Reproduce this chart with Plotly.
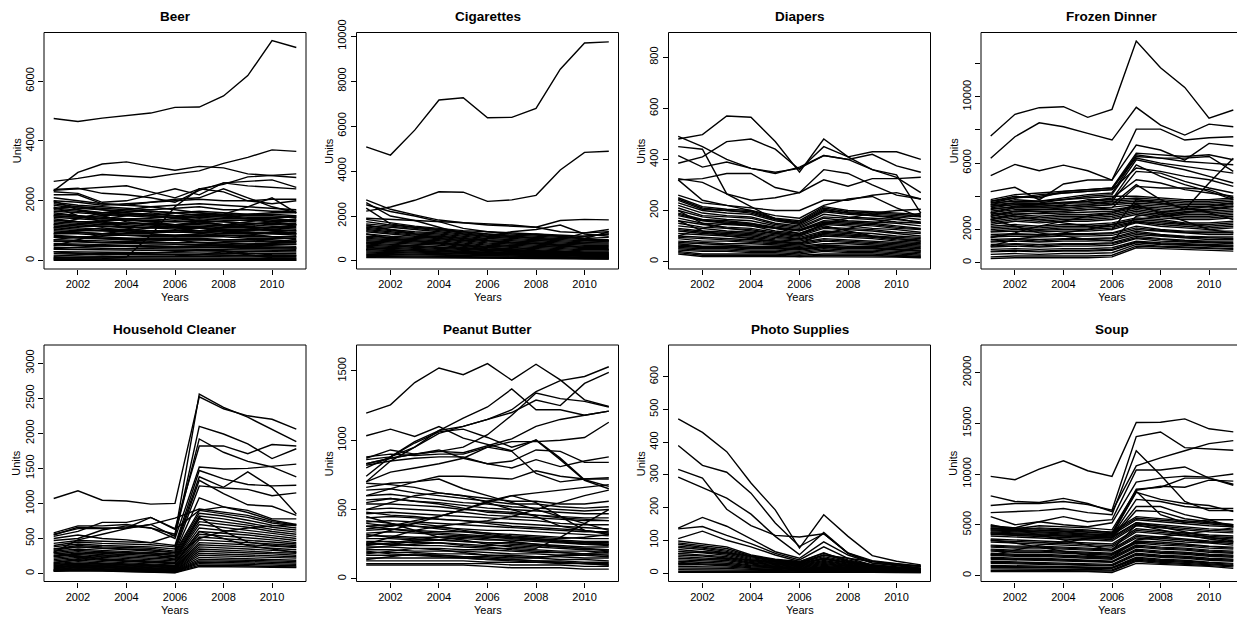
import plotly.graph_objects as go

years = [2001, 2002, 2003, 2004, 2005, 2006, 2007, 2008, 2009, 2010, 2011]

categories = ["Beer", "Cigarettes", "Diapers", "Frozen Dinner",
              "Household Cleaner", "Peanut Butter", "Photo Supplies", "Soup"]

beer = [
    [4750, 4650, 4760, 4850, 4930, 5120, 5130, 5500, 6180, 7350, 7120],
    [2330, 2950, 3230, 3300, 3150, 3020, 3150, 3100, 2900, 2850, 2780],
    [2650, 2750, 2880, 2830, 2780, 2900, 3000, 3250, 3450, 3700, 3650],
    [2350, 2400, 2450, 2500, 2300, 2100, 2400, 2550, 2800, 2850, 2900],
    [2300, 2250, 1950, 2000, 2200, 2400, 2200, 2600, 2650, 2700, 2450],
    [2380, 2420, 2250, 2200, 2100, 1950, 2350, 2600, 2500, 2450, 2400],
    [2200, 2200, 1900, 1850, 1950, 2050, 2100, 2400, 2100, 1800, 1600],
    [60, 60, 70, 120, 850, 1800, 2400, 2300, 2000, 1900, 2000],
    [1500, 1450, 1500, 1550, 1500, 1600, 1500, 1550, 1800, 2100, 1600],
    [2000, 1950, 1850, 1900, 1950, 2000, 2050, 2000, 2000, 2050, 2050],
    [2100, 2000, 1900, 1850, 1800, 1850, 1900, 1850, 1800, 1750, 1700],
    [1950, 1850, 1800, 1750, 1700, 1750, 1800, 1700, 1700, 1650, 1650],
    [1850, 1750, 1700, 1650, 1650, 1600, 1650, 1600, 1550, 1550, 1500],
    [1750, 1700, 1600, 1600, 1550, 1500, 1550, 1500, 1450, 1450, 1450],
    [1650, 1600, 1550, 1500, 1450, 1450, 1500, 1450, 1400, 1400, 1350],
    [1550, 1500, 1450, 1400, 1400, 1350, 1400, 1350, 1350, 1300, 1300],
    [1450, 1400, 1350, 1350, 1300, 1300, 1300, 1300, 1250, 1250, 1200],
    [1400, 1300, 1300, 1250, 1250, 1200, 1250, 1200, 1200, 1150, 1150],
    [1300, 1250, 1200, 1200, 1150, 1150, 1150, 1100, 1100, 1100, 1050],
    [1200, 1150, 1150, 1100, 1100, 1050, 1100, 1050, 1050, 1000, 1000],
    [1150, 1100, 1050, 1050, 1000, 1000, 1000, 1000, 950, 950, 950],
    [1050, 1000, 1000, 950, 950, 950, 950, 900, 900, 900, 850],
    [1000, 950, 900, 900, 900, 850, 900, 850, 850, 800, 800],
    [900, 900, 850, 850, 800, 800, 800, 800, 750, 750, 750],
    [850, 800, 800, 750, 750, 750, 750, 700, 700, 700, 650],
    [780, 750, 720, 700, 700, 680, 700, 650, 650, 620, 600],
    [700, 680, 650, 650, 620, 600, 620, 600, 580, 560, 550],
    [650, 620, 600, 580, 560, 550, 560, 540, 520, 500, 480],
    [580, 560, 540, 520, 500, 480, 500, 480, 460, 450, 430],
    [520, 500, 480, 460, 450, 440, 440, 420, 400, 400, 380],
    [450, 430, 420, 400, 400, 380, 380, 370, 360, 350, 340],
    [380, 370, 360, 350, 340, 330, 330, 320, 300, 300, 290],
    [300, 290, 280, 280, 270, 260, 260, 250, 250, 240, 230],
    [230, 220, 220, 210, 200, 200, 200, 190, 180, 180, 170],
    [160, 150, 150, 150, 140, 140, 140, 130, 130, 120, 120],
    [100, 100, 90, 90, 90, 90, 80, 80, 80, 80, 70],
    [60, 60, 60, 50, 50, 50, 50, 50, 50, 40, 40],
    [30, 30, 30, 30, 30, 30, 20, 20, 20, 20, 20],
    [10, 10, 10, 10, 10, 10, 10, 10, 10, 10, 10],
    [2000, 1700, 1500, 1300, 1200, 1100, 1000, 1100, 1200, 1300, 1400],
    [1200, 1400, 1600, 1700, 1800, 1700, 1600, 1500, 1400, 1300, 1200],
    [1800, 1500, 1300, 1100, 900, 800, 900, 1000, 900, 800, 700],
    [500, 700, 900, 1000, 1100, 1200, 1300, 1200, 1100, 1000, 900],
    [1600, 1500, 1400, 1500, 1600, 1500, 1300, 1200, 1100, 1000, 900],
    [900, 1000, 1100, 1000, 950, 1000, 1100, 1200, 1300, 1400, 1500],
    [700, 800, 750, 700, 650, 700, 600, 550, 500, 600, 650],
    [400, 450, 500, 480, 460, 470, 500, 520, 480, 450, 430],
    [300, 250, 200, 220, 250, 300, 350, 330, 250, 200, 180],
    [150, 200, 250, 240, 230, 220, 200, 180, 160, 150, 140],
    [100, 120, 130, 140, 150, 160, 200, 300, 200, 100, 80],
    [1900, 1800, 1750, 1700, 1650, 1600, 1600, 1550, 1500, 1500, 1450],
    [1700, 1650, 1600, 1550, 1500, 1450, 1450, 1400, 1400, 1350, 1350],
    [1500, 1450, 1400, 1350, 1350, 1300, 1350, 1300, 1250, 1200, 1250],
    [1350, 1300, 1250, 1250, 1200, 1200, 1200, 1150, 1150, 1100, 1100],
    [1250, 1200, 1150, 1150, 1100, 1100, 1100, 1050, 1000, 1050, 1000],
    [1100, 1050, 1000, 1000, 950, 950, 1000, 950, 950, 900, 900],
    [950, 950, 900, 850, 850, 850, 850, 850, 800, 800, 800],
    [800, 800, 750, 750, 700, 700, 700, 700, 700, 650, 650],
    [650, 650, 600, 600, 600, 600, 600, 600, 550, 550, 550],
    [550, 520, 500, 500, 480, 480, 460, 450, 440, 420, 420],
    [1750, 1800, 1700, 1600, 1500, 1400, 1450, 1500, 1550, 1600, 1600],
    [1100, 1200, 1300, 1400, 1300, 1200, 1100, 1000, 1000, 1100, 1200],
]

cigarettes = [
    [5080, 4710, 5820, 7160, 7260, 6370, 6390, 6790, 8530, 9700, 9750],
    [2220, 2400, 2700, 3080, 3060, 2650, 2720, 2920, 4050, 4830, 4880],
    [1900, 1850, 1800, 1780, 1700, 1600, 1550, 1500, 1800, 1850, 1830],
    [2720, 2300, 2050, 1820, 1700, 1650, 1600, 1500, 1300, 1250, 1300],
    [2600, 2000, 1800, 1500, 1200, 1100, 1300, 1400, 1600, 1200, 1100],
    [2350, 1650, 1500, 1400, 1300, 1200, 1100, 1000, 950, 1250, 1400],
    [2500, 2200, 2000, 1750, 1450, 1300, 1200, 1150, 1100, 1000, 900],
    [1850, 1700, 1550, 1450, 1350, 1300, 1250, 1200, 1150, 1100, 1200],
    [1750, 1600, 1500, 1400, 1300, 1200, 1150, 1100, 1050, 1000, 1050],
    [1650, 1550, 1450, 1350, 1250, 1150, 1100, 1050, 1000, 950, 950],
    [1550, 1500, 1400, 1300, 1200, 1100, 1050, 1000, 950, 900, 900],
    [1500, 1400, 1300, 1250, 1150, 1050, 1000, 950, 900, 850, 850],
    [1450, 1350, 1250, 1200, 1100, 1000, 950, 900, 850, 800, 800],
    [1400, 1300, 1200, 1150, 1050, 950, 900, 850, 800, 750, 750],
    [1350, 1250, 1150, 1100, 1000, 900, 850, 800, 750, 700, 700],
    [1300, 1200, 1100, 1050, 950, 850, 800, 750, 700, 650, 650],
    [1200, 1100, 1050, 1000, 900, 800, 750, 700, 650, 600, 600],
    [1100, 1050, 1000, 950, 850, 750, 700, 650, 600, 550, 550],
    [1050, 1000, 950, 900, 800, 700, 650, 600, 550, 500, 500],
    [1000, 950, 900, 850, 750, 650, 600, 550, 500, 450, 450],
    [950, 900, 850, 800, 700, 600, 550, 500, 450, 400, 400],
    [900, 850, 800, 750, 650, 550, 500, 450, 420, 380, 380],
    [850, 800, 750, 700, 600, 520, 480, 430, 400, 350, 350],
    [800, 750, 700, 650, 570, 500, 450, 400, 370, 320, 320],
    [750, 700, 650, 600, 530, 470, 420, 380, 340, 300, 300],
    [700, 650, 600, 550, 500, 440, 400, 360, 320, 280, 280],
    [650, 600, 550, 500, 460, 410, 380, 340, 300, 260, 260],
    [600, 550, 500, 470, 430, 390, 360, 320, 280, 240, 240],
    [550, 500, 470, 440, 400, 370, 340, 300, 260, 220, 220],
    [500, 460, 430, 410, 380, 350, 320, 280, 240, 200, 200],
    [450, 420, 400, 380, 350, 320, 300, 260, 220, 180, 180],
    [400, 380, 360, 340, 320, 300, 280, 240, 200, 160, 160],
    [350, 330, 320, 300, 280, 260, 250, 220, 180, 140, 140],
    [300, 290, 280, 270, 250, 240, 230, 200, 160, 130, 130],
    [250, 240, 230, 220, 210, 200, 190, 170, 140, 110, 110],
    [200, 190, 180, 180, 170, 160, 150, 140, 120, 100, 100],
    [150, 150, 140, 140, 130, 130, 120, 110, 100, 90, 90],
    [1600, 1400, 1200, 1000, 900, 1000, 1100, 1200, 1100, 1000, 1300],
    [800, 900, 1000, 1100, 1000, 900, 800, 900, 1000, 1100, 1200],
    [1200, 1000, 900, 800, 700, 600, 500, 600, 700, 800, 900],
    [500, 600, 700, 800, 700, 600, 700, 800, 700, 600, 500],
]

diapers = [
    [480, 497, 570, 565, 470, 350, 480, 410, 360, 330, 270],
    [385, 410, 470, 480, 440, 360, 450, 410, 430, 430, 400],
    [450, 440, 265, 215, 165, 150, 200, 190, 180, 170, 150],
    [415, 370, 390, 365, 345, 370, 415, 400, 420, 375, 350],
    [490, 450, 400, 365, 350, 365, 415, 400, 360, 340, 190],
    [320, 325, 345, 345, 290, 270, 320, 295, 325, 325, 330],
    [325, 310, 265, 240, 250, 270, 360, 345, 300, 260, 245],
    [320, 240, 220, 210, 200, 200, 240, 240, 260, 270, 245],
    [260, 230, 220, 200, 180, 170, 220, 245, 255, 210, 175],
    [250, 215, 205, 200, 170, 160, 215, 200, 195, 190, 185],
    [240, 205, 200, 190, 165, 150, 205, 190, 185, 180, 175],
    [230, 200, 190, 185, 160, 145, 195, 185, 180, 175, 165],
    [220, 190, 180, 175, 150, 140, 185, 175, 170, 165, 155],
    [210, 180, 175, 170, 145, 135, 175, 170, 165, 155, 150],
    [200, 175, 165, 160, 140, 130, 170, 160, 155, 150, 140],
    [190, 165, 160, 150, 135, 125, 160, 155, 150, 140, 130],
    [180, 160, 150, 145, 130, 120, 150, 145, 140, 130, 125],
    [170, 150, 145, 140, 120, 110, 145, 140, 130, 125, 115],
    [160, 145, 135, 130, 115, 105, 135, 130, 125, 115, 110],
    [150, 135, 130, 125, 110, 100, 130, 125, 120, 110, 100],
    [140, 130, 120, 115, 105, 95, 120, 115, 110, 100, 95],
    [130, 120, 115, 110, 100, 90, 115, 110, 100, 95, 90],
    [120, 110, 105, 100, 90, 85, 105, 100, 95, 85, 80],
    [110, 105, 100, 95, 85, 80, 100, 95, 90, 80, 75],
    [100, 95, 90, 85, 80, 75, 90, 85, 80, 75, 70],
    [95, 90, 85, 80, 75, 70, 85, 80, 75, 70, 65],
    [90, 80, 80, 75, 70, 65, 80, 75, 70, 65, 60],
    [80, 75, 70, 70, 65, 60, 70, 70, 65, 60, 55],
    [75, 70, 65, 60, 60, 55, 65, 60, 60, 55, 50],
    [70, 60, 60, 55, 55, 50, 60, 55, 55, 50, 45],
    [60, 55, 55, 50, 50, 45, 55, 50, 50, 45, 40],
    [55, 50, 50, 45, 45, 40, 50, 45, 45, 40, 35],
    [50, 45, 45, 40, 40, 35, 45, 40, 40, 35, 30],
    [45, 40, 40, 35, 35, 30, 40, 35, 35, 30, 25],
    [40, 30, 30, 30, 30, 25, 30, 30, 30, 25, 20],
    [35, 25, 25, 25, 25, 20, 25, 25, 25, 20, 18],
    [30, 20, 20, 20, 20, 18, 20, 20, 20, 18, 15],
    [200, 150, 130, 120, 110, 100, 150, 170, 190, 200, 205],
    [100, 130, 150, 140, 130, 110, 140, 120, 100, 90, 80],
    [160, 120, 100, 90, 80, 70, 110, 130, 150, 170, 190],
    [245, 210, 200, 195, 168, 155, 210, 195, 190, 185, 180],
    [185, 162, 155, 148, 132, 122, 155, 150, 145, 135, 128],
    [125, 115, 110, 105, 95, 88, 110, 105, 98, 90, 85],
    [65, 58, 58, 52, 52, 48, 58, 52, 52, 48, 42],
]

frozen_dinner = [
    [7630, 8940, 9340, 9400, 8760, 9240, 13350, 11750, 10560, 8710, 9200],
    [6290, 7590, 8430, 8190, 7790, 7390, 9360, 8290, 7690, 8350, 8190],
    [5240, 5920, 5540, 5880, 5540, 4980, 8050, 8050, 7390, 7530, 7590],
    [4280, 4540, 3780, 4740, 4980, 4980, 7090, 6790, 6180, 7190, 7030],
    [3700, 4000, 3900, 4300, 4400, 4500, 6600, 6500, 6400, 6500, 6200],
    [3600, 3900, 4000, 4200, 4300, 4400, 6500, 6300, 6300, 6400, 5500],
    [3500, 3800, 3700, 3900, 4100, 4200, 6400, 6300, 6100, 6000, 5900],
    [3400, 3600, 3600, 3800, 4000, 4100, 6200, 5900, 5600, 5200, 4800],
    [3300, 3500, 3400, 3500, 3800, 3800, 5900, 5200, 4700, 4300, 3800],
    [3000, 3300, 3300, 3400, 3500, 3700, 5500, 5400, 4900, 4500, 4200],
    [2800, 3100, 3200, 3300, 3400, 3500, 4700, 3800, 3200, 4800, 6300],
    [2600, 2900, 3000, 3100, 3200, 3300, 4600, 4500, 4500, 4400, 3900],
    [3200, 3400, 3500, 3600, 3700, 3900, 5000, 4800, 4400, 4200, 4000],
    [3600, 3700, 3700, 3800, 3900, 4000, 4000, 3900, 3800, 3800, 3900],
    [3400, 3500, 3500, 3600, 3600, 3700, 3800, 3700, 3600, 3600, 3700],
    [3100, 3300, 3300, 3300, 3400, 3500, 3600, 3500, 3400, 3400, 3500],
    [2900, 3100, 3100, 3100, 3200, 3200, 3400, 3300, 3200, 3200, 3300],
    [2700, 2900, 2800, 2900, 2900, 3000, 3300, 3100, 3000, 3000, 3100],
    [2500, 2700, 2600, 2700, 2700, 2800, 3100, 2900, 2800, 2800, 2900],
    [2300, 2500, 2400, 2500, 2500, 2600, 2900, 2700, 2600, 2600, 2700],
    [2200, 2300, 2200, 2300, 2300, 2400, 2700, 2600, 2400, 2400, 2500],
    [2000, 2100, 2000, 2100, 2100, 2200, 2500, 2400, 2300, 2200, 2300],
    [1850, 1900, 1850, 1900, 1900, 2000, 2400, 2200, 2100, 2000, 2100],
    [1700, 1750, 1700, 1750, 1750, 1800, 2200, 2000, 1900, 1900, 1900],
    [1550, 1600, 1550, 1600, 1600, 1650, 2000, 1900, 1800, 1700, 1700],
    [1400, 1450, 1400, 1450, 1450, 1500, 1900, 1700, 1600, 1550, 1550],
    [1250, 1300, 1250, 1300, 1300, 1350, 1700, 1600, 1500, 1400, 1400],
    [1100, 1150, 1100, 1150, 1150, 1200, 1600, 1450, 1350, 1300, 1300],
    [950, 1000, 950, 1000, 1000, 1050, 1450, 1300, 1250, 1200, 1150],
    [800, 850, 800, 850, 850, 900, 1300, 1200, 1150, 1100, 1050],
    [650, 700, 650, 700, 700, 750, 1200, 1100, 1050, 1000, 950],
    [500, 550, 500, 550, 550, 600, 1100, 1000, 950, 900, 850],
    [350, 400, 400, 400, 400, 450, 1000, 950, 900, 850, 800],
    [250, 300, 300, 300, 300, 350, 900, 850, 800, 750, 700],
    [2600, 2200, 1800, 1600, 1400, 1300, 2800, 3000, 3200, 3400, 3600],
    [1500, 1800, 2200, 2500, 2800, 3000, 3500, 3000, 2500, 2000, 1800],
    [3000, 2800, 2600, 2400, 2200, 2000, 3800, 3600, 3300, 3000, 2600],
    [1000, 1400, 1600, 1800, 2000, 2300, 2600, 2800, 3000, 3200, 3400],
    [3500, 3600, 3550, 3650, 3700, 3800, 3900, 3800, 3700, 3700, 3800],
    [3250, 3350, 3400, 3450, 3500, 3600, 3700, 3600, 3500, 3500, 3600],
    [3000, 3200, 3200, 3200, 3300, 3350, 3500, 3400, 3300, 3300, 3400],
    [2800, 3000, 2950, 3000, 3050, 3100, 3350, 3200, 3100, 3100, 3200],
    [2600, 2800, 2700, 2800, 2800, 2900, 3200, 3000, 2900, 2900, 3000],
    [2400, 2600, 2500, 2600, 2600, 2700, 3000, 2800, 2700, 2700, 2800],
    [2100, 2200, 2100, 2200, 2200, 2300, 2600, 2500, 2350, 2300, 2400],
    [1900, 2000, 1950, 2000, 2000, 2100, 2450, 2300, 2200, 2100, 2200],
    [1600, 1700, 1650, 1700, 1700, 1750, 2100, 1950, 1850, 1800, 1800],
    [1300, 1400, 1300, 1400, 1400, 1450, 1800, 1650, 1550, 1500, 1450],
    [1000, 1100, 1000, 1100, 1100, 1150, 1500, 1400, 1300, 1250, 1200],
    [700, 750, 700, 750, 750, 800, 1250, 1150, 1100, 1050, 1000],
    [3800, 4100, 4200, 4300, 4400, 4500, 6300, 6000, 5800, 5600, 5400],
    [3700, 3900, 4100, 4200, 4300, 4400, 5700, 5500, 5200, 5000, 4600],
]

household_cleaner = [
    [1070, 1180, 1045, 1035, 990, 1000, 2520, 2350, 2250, 2200, 2060],
    [580, 680, 680, 700, 650, 560, 2560, 2370, 2230, 2050, 1880],
    [550, 660, 650, 650, 700, 530, 2100, 1990, 1850, 1640, 1780],
    [530, 600, 730, 730, 800, 640, 1820, 1820, 1710, 1840, 1820],
    [500, 550, 500, 480, 440, 550, 1920, 1730, 1600, 1520, 1380],
    [470, 500, 620, 680, 650, 500, 1520, 1490, 1500, 1530, 1560],
    [430, 470, 460, 450, 440, 400, 1470, 1350, 1270, 1250, 1260],
    [400, 450, 430, 420, 410, 380, 1380, 1230, 1450, 1230, 850],
    [380, 420, 400, 390, 380, 350, 1330, 1140, 980, 960, 830],
    [350, 400, 380, 370, 360, 320, 1250, 1220, 1200, 1110, 1150],
    [330, 380, 360, 350, 340, 300, 1080, 950, 870, 760, 700],
    [560, 640, 640, 650, 800, 630, 900, 950, 900, 780, 780],
    [300, 480, 560, 640, 700, 790, 920, 880, 830, 740, 690],
    [350, 380, 360, 340, 320, 300, 900, 850, 800, 720, 680],
    [320, 350, 330, 310, 300, 280, 860, 820, 760, 690, 650],
    [300, 330, 310, 290, 280, 260, 820, 780, 720, 660, 620],
    [280, 310, 290, 270, 260, 240, 780, 740, 690, 630, 590],
    [260, 290, 270, 250, 240, 220, 740, 700, 660, 600, 560],
    [240, 270, 250, 230, 220, 200, 700, 660, 620, 570, 530],
    [220, 250, 230, 210, 200, 180, 650, 620, 580, 540, 500],
    [200, 230, 210, 190, 180, 160, 600, 580, 550, 510, 470],
    [180, 210, 190, 170, 160, 140, 560, 540, 510, 480, 440],
    [160, 190, 170, 150, 140, 120, 520, 500, 470, 450, 420],
    [140, 170, 150, 140, 130, 110, 480, 460, 440, 420, 400],
    [130, 150, 140, 130, 120, 100, 440, 430, 410, 390, 370],
    [120, 140, 130, 120, 110, 90, 410, 400, 380, 360, 340],
    [110, 130, 120, 110, 100, 80, 380, 370, 350, 330, 310],
    [100, 120, 110, 100, 90, 70, 350, 340, 320, 300, 290],
    [90, 110, 100, 90, 80, 60, 320, 310, 290, 280, 260],
    [80, 100, 90, 80, 70, 50, 290, 280, 270, 250, 240],
    [70, 90, 80, 70, 60, 45, 260, 250, 240, 230, 220],
    [60, 80, 70, 60, 55, 40, 230, 220, 210, 200, 190],
    [55, 70, 60, 55, 50, 35, 200, 200, 190, 180, 170],
    [50, 60, 55, 50, 45, 30, 180, 180, 170, 160, 150],
    [45, 55, 50, 45, 40, 25, 160, 160, 150, 140, 130],
    [40, 50, 45, 40, 35, 20, 140, 140, 130, 120, 110],
    [35, 45, 40, 35, 30, 15, 120, 120, 110, 100, 95],
    [30, 40, 35, 30, 25, 10, 100, 100, 95, 90, 85],
    [300, 250, 200, 180, 160, 150, 600, 500, 400, 350, 300],
    [150, 200, 250, 280, 300, 250, 500, 600, 650, 680, 700],
    [250, 280, 300, 300, 280, 200, 800, 600, 450, 400, 380],
]

peanut_butter = [
    [1195, 1255, 1416, 1521, 1473, 1553, 1433, 1548, 1435, 1291, 1243],
    [1032, 1080, 1027, 1099, 1015, 972, 924, 1003, 871, 715, 667],
    [700, 850, 950, 1050, 1100, 1150, 1220, 1350, 1430, 1460, 1530],
    [860, 880, 950, 1070, 1100, 1150, 1200, 1290, 1250, 1410, 1490],
    [740, 880, 990, 1070, 1160, 1240, 1370, 1220, 1220, 1180, 1210],
    [830, 870, 900, 920, 950, 1040, 1180, 1340, 1300, 1280, 1240],
    [830, 870, 900, 920, 910, 960, 1010, 1100, 1150, 1180, 1210],
    [880, 900, 890, 900, 900, 950, 990, 990, 1000, 1020, 1130],
    [820, 850, 870, 880, 880, 830, 800, 860, 810, 850, 880],
    [870, 930, 900, 930, 870, 830, 850, 930, 920, 840, 840],
    [800, 880, 980, 1060, 1080, 1020, 950, 1000, 860, 710, 650],
    [700, 770, 800, 830, 870, 950, 920, 760, 700, 720, 730],
    [660, 690, 700, 740, 740, 730, 720, 780, 740, 720, 720],
    [690, 680, 660, 620, 600, 580, 560, 560, 540, 540, 560],
    [640, 650, 620, 600, 580, 560, 540, 540, 520, 510, 520],
    [600, 610, 590, 570, 550, 540, 520, 510, 500, 490, 500],
    [570, 580, 560, 550, 530, 510, 500, 490, 480, 470, 470],
    [540, 540, 530, 520, 500, 490, 480, 460, 450, 440, 440],
    [500, 510, 500, 490, 480, 460, 450, 440, 430, 420, 420],
    [470, 480, 470, 460, 450, 440, 430, 420, 400, 390, 390],
    [440, 450, 440, 430, 420, 410, 400, 390, 380, 370, 360],
    [410, 420, 410, 400, 390, 380, 370, 360, 350, 340, 340],
    [380, 390, 380, 370, 360, 350, 350, 340, 330, 320, 310],
    [350, 360, 350, 340, 340, 330, 320, 310, 300, 290, 290],
    [330, 340, 330, 320, 310, 300, 300, 290, 280, 270, 270],
    [310, 310, 300, 300, 290, 280, 280, 270, 260, 250, 250],
    [290, 290, 280, 280, 270, 260, 260, 250, 240, 230, 230],
    [270, 270, 260, 260, 250, 240, 240, 230, 220, 210, 210],
    [250, 250, 240, 240, 230, 220, 220, 210, 200, 200, 190],
    [230, 230, 220, 220, 210, 210, 200, 190, 190, 180, 180],
    [210, 210, 200, 200, 200, 190, 180, 180, 170, 170, 160],
    [190, 190, 190, 180, 180, 170, 170, 160, 160, 150, 150],
    [170, 170, 170, 170, 160, 160, 150, 150, 140, 140, 130],
    [150, 150, 150, 150, 150, 140, 140, 130, 130, 120, 120],
    [130, 130, 130, 130, 130, 120, 120, 120, 110, 110, 100],
    [110, 110, 110, 110, 110, 110, 100, 100, 100, 90, 90],
    [100, 100, 100, 100, 100, 90, 80, 80, 80, 70, 70],
    [600, 650, 700, 720, 650, 600, 550, 500, 450, 400, 350],
    [300, 350, 400, 450, 500, 550, 600, 620, 640, 660, 680],
    [450, 400, 350, 300, 280, 250, 230, 220, 300, 400, 500],
    [500, 550, 600, 620, 600, 550, 500, 450, 380, 350, 330],
    [250, 300, 350, 380, 400, 420, 450, 500, 550, 600, 640],
    [400, 380, 420, 450, 500, 560, 600, 550, 450, 350, 320],
    [180, 200, 220, 210, 190, 170, 160, 150, 170, 180, 200],
    [220, 240, 250, 260, 240, 230, 210, 200, 190, 180, 170],
    [260, 250, 270, 280, 300, 290, 270, 250, 230, 220, 210],
    [320, 300, 290, 280, 270, 260, 250, 240, 230, 220, 200],
    [360, 380, 400, 380, 350, 330, 310, 300, 290, 300, 320],
    [420, 400, 380, 360, 340, 320, 300, 280, 270, 260, 250],
    [480, 460, 450, 430, 420, 400, 380, 370, 360, 350, 330],
    [550, 580, 560, 540, 510, 480, 470, 460, 440, 430, 420],
    [140, 160, 180, 170, 160, 150, 140, 130, 120, 110, 110],
    [200, 180, 170, 160, 150, 140, 130, 120, 120, 110, 100],
    [240, 260, 280, 300, 310, 300, 290, 280, 270, 250, 240],
    [380, 360, 340, 330, 320, 310, 300, 290, 270, 260, 260],
]

photo_supplies = [
    [471, 430, 371, 275, 193, 76, 178, 112, 53, 36, 25],
    [390, 329, 308, 244, 153, 81, 120, 61, 38, 28, 20],
    [317, 290, 195, 145, 115, 110, 120, 60, 30, 25, 20],
    [293, 261, 229, 180, 112, 56, 124, 61, 35, 28, 22],
    [137, 170, 143, 105, 65, 45, 95, 55, 30, 22, 15],
    [135, 142, 115, 90, 60, 40, 80, 45, 25, 18, 12],
    [105, 128, 100, 80, 55, 35, 62, 35, 20, 15, 10],
    [98, 88, 80, 55, 42, 35, 60, 40, 25, 18, 14],
    [92, 84, 75, 52, 40, 33, 55, 38, 23, 16, 12],
    [88, 80, 70, 50, 38, 31, 50, 35, 21, 15, 11],
    [82, 76, 66, 47, 36, 29, 46, 33, 19, 14, 10],
    [78, 72, 62, 44, 34, 27, 42, 30, 18, 13, 9],
    [72, 66, 58, 41, 32, 25, 38, 28, 16, 12, 8],
    [66, 62, 54, 38, 30, 23, 35, 26, 15, 11, 8],
    [60, 56, 50, 35, 28, 21, 32, 24, 14, 10, 7],
    [55, 52, 46, 32, 26, 19, 29, 22, 13, 9, 6],
    [50, 47, 42, 30, 24, 17, 26, 20, 12, 8, 6],
    [45, 42, 38, 27, 22, 15, 23, 18, 11, 7, 5],
    [40, 38, 34, 24, 20, 13, 20, 16, 10, 6, 5],
    [35, 33, 30, 22, 18, 12, 18, 14, 9, 6, 4],
    [30, 29, 26, 19, 16, 10, 16, 12, 8, 5, 4],
    [25, 25, 22, 16, 14, 9, 14, 11, 7, 5, 3],
    [20, 20, 18, 14, 12, 8, 12, 10, 6, 4, 3],
    [15, 15, 14, 11, 10, 6, 10, 8, 5, 3, 2],
    [10, 10, 10, 8, 8, 5, 8, 6, 4, 3, 2],
    [5, 5, 6, 5, 5, 3, 6, 4, 3, 2, 1],
    [2, 2, 3, 3, 3, 2, 4, 3, 2, 1, 1],
    [60, 65, 62, 50, 40, 30, 55, 45, 35, 25, 15],
    [30, 40, 45, 40, 30, 25, 45, 30, 20, 10, 5],
]

soup = [
    [9770, 9440, 10490, 11310, 10330, 9770, 15080, 15110, 15440, 14460, 14160],
    [6900, 7100, 7100, 7300, 7000, 6430, 13700, 14150, 12600, 12450, 12350],
    [7850, 7300, 7200, 7600, 7100, 6300, 10800, 11600, 12300, 13000, 13300],
    [6200, 6300, 6400, 6600, 6200, 6000, 12300, 9900, 7300, 6400, 6400],
    [5800, 5000, 5300, 5800, 5300, 5500, 10400, 10400, 10700, 9600, 9000],
    [4900, 4700, 5300, 5000, 4800, 5200, 9200, 9600, 9800, 9700, 10000],
    [4700, 4600, 4900, 4800, 4700, 4500, 8400, 8800, 8700, 9400, 9300],
    [4600, 4500, 4700, 4600, 4500, 4200, 8500, 8700, 9600, 9600, 8900],
    [4500, 4400, 4500, 4400, 4300, 4100, 8200, 7500, 7100, 6900, 6300],
    [4400, 4300, 4300, 4300, 4100, 4000, 8300, 6000, 5200, 5500, 4800],
    [4300, 4200, 4200, 4100, 4000, 3900, 7500, 7300, 6800, 6600, 6600],
    [4200, 4100, 4100, 4000, 3900, 3800, 6800, 6800, 6000, 5500, 5500],
    [4100, 4000, 4000, 3900, 3800, 3700, 6400, 6300, 5600, 5300, 5000],
    [4800, 4700, 4600, 4500, 4400, 4300, 5800, 5600, 5400, 5200, 5000],
    [4500, 4400, 4300, 4200, 4100, 4000, 5500, 5300, 5100, 4900, 4800],
    [4200, 4100, 4000, 3900, 3800, 3700, 5200, 5000, 4800, 4600, 4500],
    [3900, 3800, 3700, 3600, 3500, 3400, 4900, 4700, 4500, 4300, 4200],
    [3600, 3500, 3400, 3300, 3200, 3100, 4600, 4400, 4200, 4000, 3900],
    [3300, 3200, 3100, 3000, 2900, 2800, 4300, 4100, 3900, 3700, 3600],
    [3000, 2900, 2900, 2800, 2700, 2600, 4000, 3800, 3600, 3400, 3300],
    [2800, 2700, 2700, 2600, 2500, 2400, 3700, 3500, 3300, 3200, 3000],
    [2600, 2500, 2500, 2400, 2300, 2200, 3400, 3300, 3100, 2900, 2800],
    [2400, 2300, 2300, 2200, 2100, 2000, 3200, 3000, 2900, 2700, 2600],
    [2200, 2100, 2100, 2000, 1900, 1800, 3000, 2800, 2700, 2500, 2400],
    [2000, 1900, 1900, 1800, 1700, 1600, 2800, 2600, 2500, 2300, 2200],
    [1800, 1700, 1700, 1600, 1500, 1400, 2600, 2400, 2300, 2100, 2000],
    [1600, 1550, 1500, 1450, 1400, 1300, 2400, 2200, 2100, 1900, 1800],
    [1400, 1350, 1300, 1250, 1200, 1100, 2200, 2000, 1900, 1700, 1600],
    [1200, 1150, 1100, 1050, 1000, 950, 2000, 1800, 1700, 1500, 1400],
    [1000, 950, 900, 900, 850, 800, 1800, 1600, 1500, 1300, 1200],
    [800, 800, 750, 750, 700, 700, 1600, 1400, 1300, 1150, 1000],
    [500, 500, 500, 500, 500, 450, 1400, 1200, 1100, 1000, 850],
    [400, 400, 400, 400, 400, 300, 1200, 1100, 1000, 900, 700],
    [5000, 4500, 4000, 3500, 3000, 2500, 5000, 4500, 4000, 3600, 3300],
    [2000, 2500, 3000, 3300, 3600, 3800, 5200, 4800, 4300, 3800, 3400],
    [3500, 3200, 2800, 2400, 2000, 1800, 3500, 3800, 4100, 4400, 4700],
    [4650, 4550, 4450, 4350, 4250, 4150, 5650, 5450, 5250, 5050, 4900],
    [4050, 3950, 3850, 3750, 3650, 3550, 5050, 4850, 4650, 4450, 4350],
    [3450, 3350, 3250, 3150, 3050, 2950, 4450, 4250, 4050, 3850, 3750],
    [2900, 2800, 2800, 2700, 2600, 2500, 3850, 3650, 3450, 3300, 3150],
    [2500, 2400, 2400, 2300, 2200, 2100, 3300, 3150, 3000, 2800, 2700],
    [2100, 2000, 2000, 1900, 1800, 1700, 2900, 2700, 2600, 2400, 2300],
    [1700, 1600, 1600, 1500, 1450, 1350, 2500, 2300, 2200, 2000, 1900],
    [1300, 1250, 1200, 1150, 1100, 1000, 2100, 1900, 1800, 1600, 1500],
    [900, 850, 850, 800, 780, 750, 1700, 1500, 1400, 1250, 1100],
    [650, 650, 600, 600, 600, 550, 1500, 1300, 1200, 1100, 950],
]

panel_series = [beer, cigarettes, diapers, frozen_dinner,
                household_cleaner, peanut_butter, photo_supplies, soup]

y_tickvals = [
    [0, 2000, 4000, 6000],
    [0, 2000, 4000, 6000, 8000, 10000],
    [0, 200, 400, 600, 800],
    [0, 2000, 4000, 6000, 8000, 10000, 12000],
    [0, 500, 1000, 1500, 2000, 2500, 3000],
    [0, 500, 1000, 1500],
    [0, 100, 200, 300, 400, 500, 600],
    [0, 5000, 10000, 15000, 20000],
]
y_ticktext = [
    ["0", "2000", "4000", "6000"],
    ["0", "2000", "4000", "6000", "8000", "10000"],
    ["0", "200", "400", "600", "800"],
    ["0", "2000", "", "6000", "", "10000", ""],
    ["0", "500", "1000", "1500", "2000", "2500", "3000"],
    ["0", "500", "1000", "1500"],
    ["0", "100", "200", "300", "400", "500", "600"],
    ["0", "5000", "10000", "15000", "20000"],
]
x_tickvals = [2002, 2004, 2006, 2008, 2010]

# ---- layout geometry (pixels) ----
W, H = 1237, 618
y_ranges = [(-277, 7620), (-357, 10165), (-29, 897), (-380, 13870),
            (-114, 3260), (-19, 1687), (-26, 697), (-590, 22720)]
col_left = [44, 356.5, 668.5, 981]
panel_w = 262
row_top = [32.5, 345]
panel_h = 236.5
px_per_year = panel_w / 10.8

FONT = "Liberation Sans, Arial, Helvetica, sans-serif"

fig = go.Figure()
layout = dict(
    template="none",
    width=W, height=H, autosize=False,
    margin=dict(l=0, r=0, t=0, b=0, pad=0, autoexpand=False),
    paper_bgcolor="white", plot_bgcolor="white", showlegend=False,
    font=dict(family=FONT, size=11, color="black"),
)
annotations = []
shapes = []

for i, (name, series) in enumerate(zip(categories, panel_series)):
    r, c = divmod(i, 4)
    left = col_left[c]
    right_px = left + panel_w
    right_clip = min(right_px, W)
    top = row_top[r]
    bottom = top + panel_h
    xd = [left / W, right_clip / W]
    yd = [1 - bottom / H, 1 - top / H]
    xr = [2000.6, 2000.6 + (right_clip - left) / px_per_year]
    suffix = "" if i == 0 else str(i + 1)
    xa, ya = "x" + suffix, "y" + suffix

    for s in series:
        fig.add_trace(go.Scatter(x=years, y=s, mode="lines", xaxis=xa, yaxis=ya,
                                 line=dict(color="black", width=1.4),
                                 hoverinfo="skip"))

    layout["xaxis" + suffix] = dict(
        domain=xd, range=xr, anchor=ya, showgrid=False, zeroline=False,
        showline=False, automargin=False,
        ticks="outside", ticklen=5, tickwidth=1, tickcolor="black",
        tickvals=x_tickvals, ticktext=[str(v) for v in x_tickvals],
        tickfont=dict(size=11, family=FONT, color="black"), fixedrange=True,
    )
    layout["yaxis" + suffix] = dict(
        domain=yd, range=list(y_ranges[i]), anchor=xa, showgrid=False,
        zeroline=False, showline=False, automargin=False,
        ticks="outside", ticklen=5, tickwidth=1,
        tickcolor="black", tickvals=y_tickvals[i], ticktext=y_ticktext[i],
        tickangle=-90, tickfont=dict(size=11, family=FONT, color="black"),
        fixedrange=True,
    )
    shapes.append(dict(type="rect", xref="paper", yref="paper",
                       x0=left / W, x1=right_px / W, y0=1 - bottom / H, y1=1 - top / H,
                       line=dict(color="black", width=1), layer="above"))
    cx = (left + right_px) / 2 / W
    annotations.append(dict(text="<b>" + name + "</b>", x=cx, y=1 - (top - 15.5) / H,
                            xref="paper", yref="paper", showarrow=False,
                            xanchor="center", yanchor="middle",
                            font=dict(size=13.5, family=FONT, color="black")))
    annotations.append(dict(text="Years", x=cx, y=1 - (bottom + 28) / H,
                            xref="paper", yref="paper", showarrow=False,
                            xanchor="center", yanchor="middle",
                            font=dict(size=11, family=FONT, color="black")))
    annotations.append(dict(text="Units", x=(left - 27.5) / W,
                            y=1 - (top + bottom) / 2 / H,
                            xref="paper", yref="paper", showarrow=False,
                            textangle=-90, xanchor="center", yanchor="middle",
                            font=dict(size=11, family=FONT, color="black")))

layout["annotations"] = annotations
layout["shapes"] = shapes
fig.update_layout(**layout)

post = ("document.body.style.margin='0';document.body.style.overflow='hidden';"
        "var gd=document.getElementById('{plot_id}');"
        "gd.style.position='absolute';gd.style.left='0px';gd.style.top='0px';")
fig.write_html("out.html", post_script=post,
               config={"displayModeBar": False, "staticPlot": True})
